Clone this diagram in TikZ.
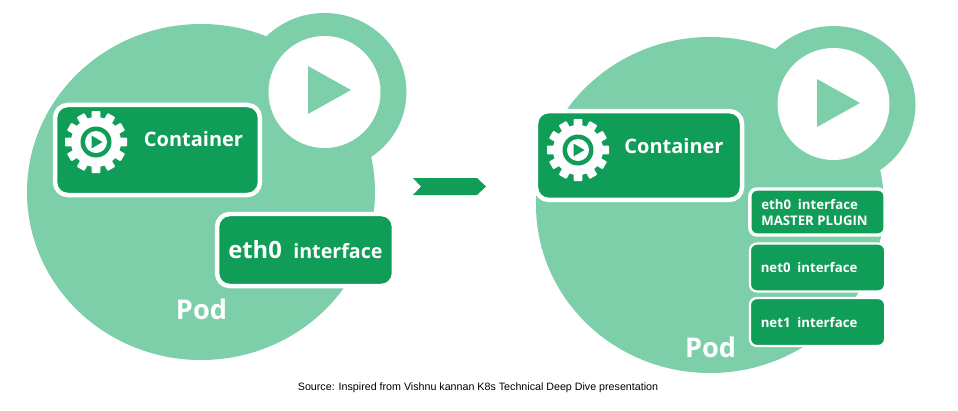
\documentclass[tikz,border=0pt]{standalone}
\usepackage{fontspec}
\setmainfont{Open Sans}
\newfontfamily\srcfont{Liberation Sans}
\usepackage{tikz}
\definecolor{podLight}{HTML}{7DCFAA}
\definecolor{podGreen}{HTML}{109D58}
\tikzset{
    x=0.025cm, y=-0.025cm,
    podshape/.style={fill=podLight, draw=none},
    ringhole/.style={fill=white, draw=none},
    playtri/.style={fill=podLight, draw=none},
    ctrbox/.style={draw=white, line width=3.2pt, fill=podGreen, rounded corners=9pt, inner sep=0pt},
    ifbox/.style={draw=white, line width=1.6pt, fill=podGreen, rounded corners=5pt, inner sep=0pt, minimum width=3.38cm, minimum height=1.2cm},
    boxtext/.style={text=white, font=\bfseries, inner sep=0pt, align=left},
    gearicon/.pic={
        \foreach \a in {0,30,...,330}
            \fill[white, rotate=\a, rounded corners=0.6pt] (-4.4,-31) rectangle (4.4,-20);
        \fill[white] (0,0) circle [radius=25];
        \fill[podGreen] (0,0) circle [radius=15.5];
        \fill[white] (0,0) circle [radius=11];
        \fill[podGreen] (-4.5,-6.5) -- (6.5,0) -- (-4.5,6.5) -- cycle;
    }
}
\begin{document}
\begin{tikzpicture}
\useasboundingbox (0,0) rectangle (958,410);
\fill[podshape] (201,192) ellipse [x radius=174, y radius=168];
\fill[podshape] (324.5,92) ellipse [x radius=82, y radius=79];
\fill[ringhole] (324.5,92) circle [radius=56];
\fill[playtri] (308,66) -- (351,90) -- (308,114) -- cycle;
\node[ctrbox, minimum width=5.12cm, minimum height=2.25cm] (ctrleft) at (157.5,150) {};
\pic at (96,142) {gearicon};
\node[boxtext, font=\fontsize{14.2pt}{17pt}\bfseries] (ctrlefttext) at (193.5,139) {Container};
\node[ctrbox, minimum width=4.42cm, minimum height=1.8cm] (ethleft) at (305.5,250) {};
\node[boxtext, anchor=base west, font=\fontsize{16.9pt}{20pt}\bfseries] (ethlefttext) at (228,258) {eth0};
\node[boxtext, anchor=base west, font=\fontsize{14pt}{17pt}\bfseries] (ethleftif) at (293,258) {interface};
\node[boxtext, font=\fontsize{19.3pt}{22pt}\bfseries] (podleft) at (201.5,309) {Pod};
\fill[podGreen] (413,178) -- (477,178) -- (486,186.5) -- (477,195) -- (413,195) -- (421,186.5) -- cycle;
\fill[podshape] (710,205) ellipse [x radius=174, y radius=168];
\fill[podshape] (833.5,105) ellipse [x radius=82, y radius=79];
\fill[ringhole] (833.5,104) circle [radius=56];
\fill[playtri] (817,79) -- (860,103) -- (817,127) -- cycle;
\node[ctrbox, minimum width=5.15cm, minimum height=2.22cm] (ctrright) at (639,155.5) {};
\pic at (578,150) {gearicon};
\node[boxtext, font=\fontsize{14.2pt}{17pt}\bfseries] (ctrrighttext) at (674,146) {Container};
\node[ifbox, line width=2.4pt, minimum height=1.15cm] (ethright) at (817.5,212) {};
\node[boxtext, anchor=base west, font=\fontsize{9.4pt}{11pt}\bfseries] (ethrighttext) at (761,209) {eth0\ \ interface};
\node[boxtext, anchor=base west, font=\fontsize{9.4pt}{11pt}\bfseries] (ethrightplugin) at (761,225) {MASTER PLUGIN};
\node[ifbox] (netzero) at (817.5,267.5) {};
\node[boxtext, anchor=base west, font=\fontsize{9.4pt}{11pt}\bfseries] (netzerotext) at (760.5,272) {net0\ \ interface};
\node[ifbox] (netone) at (817.5,322) {};
\node[boxtext, anchor=base west, font=\fontsize{9.4pt}{11pt}\bfseries] (netonetext) at (760.5,327) {net1\ \ interface};
\node[boxtext, font=\fontsize{19.3pt}{22pt}\bfseries] (podright) at (710.5,347) {Pod};
\node[inner sep=0pt, text=black, font=\srcfont\fontsize{7.6pt}{9pt}\selectfont] (source) at (478,388) {Source: Inspired from Vishnu kannan K8s Technical Deep Dive presentation};
\end{tikzpicture}
\end{document}
